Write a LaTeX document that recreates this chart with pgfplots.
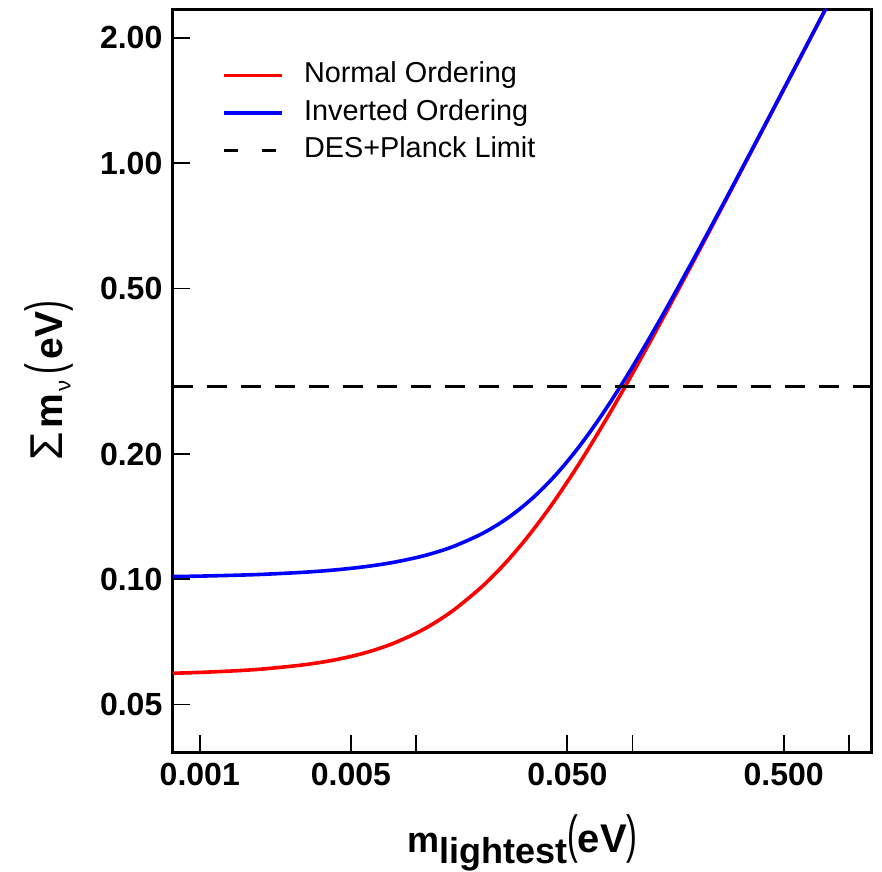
\documentclass[border=0pt]{standalone}
\usepackage{pgfplots}
\pgfplotsset{compat=1.18}
\usepackage{graphicx}
\usepackage{fontspec}
\setmainfont{Liberation Sans}

% Short two-dash sample for the limit line in the legend
\pgfplotsset{dashlegend/.style={
  legend image code/.code={\draw[##1, dash pattern=on 7pt off 12pt] (0pt,0pt) -- (29pt,0pt);}}}

% Tall, thin parentheses for the axis units
\newcommand{\lpar}{{\mdseries\fontsize{18}{18}\selectfont\scalebox{0.9}[1.45]{(}}}
\newcommand{\rpar}{{\mdseries\fontsize{18}{18}\selectfont\scalebox{0.9}[1.45]{)}}}

% Sum of neutrino masses vs. lightest mass (eV)
\newcommand{\normalord}{
(0.00075,0.05945) (0.001,0.05973) (0.0015,0.06031) (0.002,0.06093)
(0.003,0.06226) (0.004,0.06370) (0.005,0.06525) (0.006,0.06689)
(0.007,0.06862) (0.008,0.07043) (0.01,0.07422) (0.012,0.07822)
(0.015,0.08452) (0.02,0.09565) (0.025,0.10736) (0.03,0.11953)
(0.035,0.13209) (0.04,0.14496) (0.045,0.15809) (0.05,0.17146)
(0.055,0.18501) (0.06,0.19872) (0.065,0.21258) (0.07,0.22656)
(0.075,0.24064) (0.08,0.25481) (0.09,0.28337) (0.1,0.31218)
(0.12,0.37031) (0.15,0.45836) (0.2,0.60634) (0.25,0.75510)
(0.3,0.90426) (0.4,1.20321) (0.5,1.50257) (0.6,1.80214)
(0.7,2.10184) (0.8,2.40161)}
\newcommand{\invertedord}{
(0.00075,0.10151) (0.001,0.10176) (0.0015,0.10229) (0.002,0.10282)
(0.003,0.10392) (0.004,0.10506) (0.005,0.10624) (0.006,0.10746)
(0.007,0.10871) (0.008,0.11001) (0.01,0.11271) (0.012,0.11556)
(0.015,0.12012) (0.02,0.12840) (0.025,0.13747) (0.03,0.14726)
(0.035,0.15768) (0.04,0.16865) (0.045,0.18009) (0.05,0.19195)
(0.055,0.20416) (0.06,0.21668) (0.065,0.22947) (0.07,0.24248)
(0.075,0.25569) (0.08,0.26908) (0.09,0.29628) (0.1,0.32394)
(0.12,0.38029) (0.15,0.46646) (0.2,0.61249) (0.25,0.76005)
(0.3,0.90840) (0.4,1.20632) (0.5,1.50506) (0.6,1.80422)
(0.7,2.10362) (0.8,2.40317)}

\begin{document}
\begin{tikzpicture}
\begin{axis}[
  name=ax,
  scale only axis,
  width=349.5pt, height=371.25pt,
  xmode=log, ymode=log,
  xmin=0.00075, xmax=1.28,
  ymin=0.0384, ymax=2.34,
  axis line style={line width=1.5pt},
  tick style={line width=0.9pt, black},
  tick align=inside,
  major tick length=8.5pt,
  minor tick num=0,
  xtick pos=left, ytick pos=left,
  xtick={0.001,0.005,0.01,0.05,0.1,0.5,1},
  xticklabels={0.001,0.005,,0.050,,0.500,},
  ytick={0.05,0.1,0.2,0.5,1,2},
  yticklabels={0.05,0.10,0.20,0.50,1.00,2.00},
  ticklabel style={font=\bfseries\fontsize{16}{16}\selectfont},
  xticklabel style={inner sep=5pt},
  yticklabel style={inner sep=5pt},
  xlabel={\bfseries\fontsize{18}{18}\selectfont m\raisebox{-5.5pt}{lightest}\lpar{\fontsize{20}{20}\selectfont eV}\rpar},
  ylabel={{\fontsize{23}{23}\selectfont Σ}\hspace{2pt}{\bfseries\fontsize{19.5}{19.5}\selectfont m}\hspace{1pt}\raisebox{-4pt}{\fontsize{11}{11}\selectfont ν}\hspace{3pt}\lpar\hspace{2pt}{\bfseries\fontsize{19.5}{19.5}\selectfont eV}\rpar},
  xlabel style={at={(axis description cs:0.5,0)}, anchor=base, yshift=-50pt},
  ylabel style={at={(axis description cs:0,0.5)}, anchor=base, yshift=55pt},
  legend style={
    at={(axis description cs:0.0705,0.930)}, anchor=north west,
    draw=none, fill=none, inner sep=0pt,
    font=\fontsize{14.4}{14.4}\selectfont,
    nodes={inner sep=0pt, text height=10.5pt, text depth=3pt},
    row sep=5.2pt,
    /tikz/every odd column/.append style={column sep=10pt},
  },
  legend cell align=left,
  legend image code/.code={\draw[#1] (0pt,0pt) -- (29pt,0pt);},
  clip=true,
]
\addplot[red, line width=1.8pt, smooth] coordinates {\normalord};
\addlegendentry{Normal Ordering}
\addplot[blue, line width=1.8pt, smooth] coordinates {\invertedord};
\addlegendentry{Inverted Ordering}
\addplot[black, line width=1.5pt, dash pattern=on 10pt off 7pt, dashlegend]
  coordinates {(0.00075,0.29) (1.28,0.29)};
\addlegendentry{DES+Planck Limit}
\end{axis}
\pgfresetboundingbox
\path[use as bounding box] ([shift={(-86.35pt,-59.5pt)}]ax.south west) rectangle ([shift={(5pt,4.75pt)}]ax.north east);
\end{tikzpicture}
\end{document}
